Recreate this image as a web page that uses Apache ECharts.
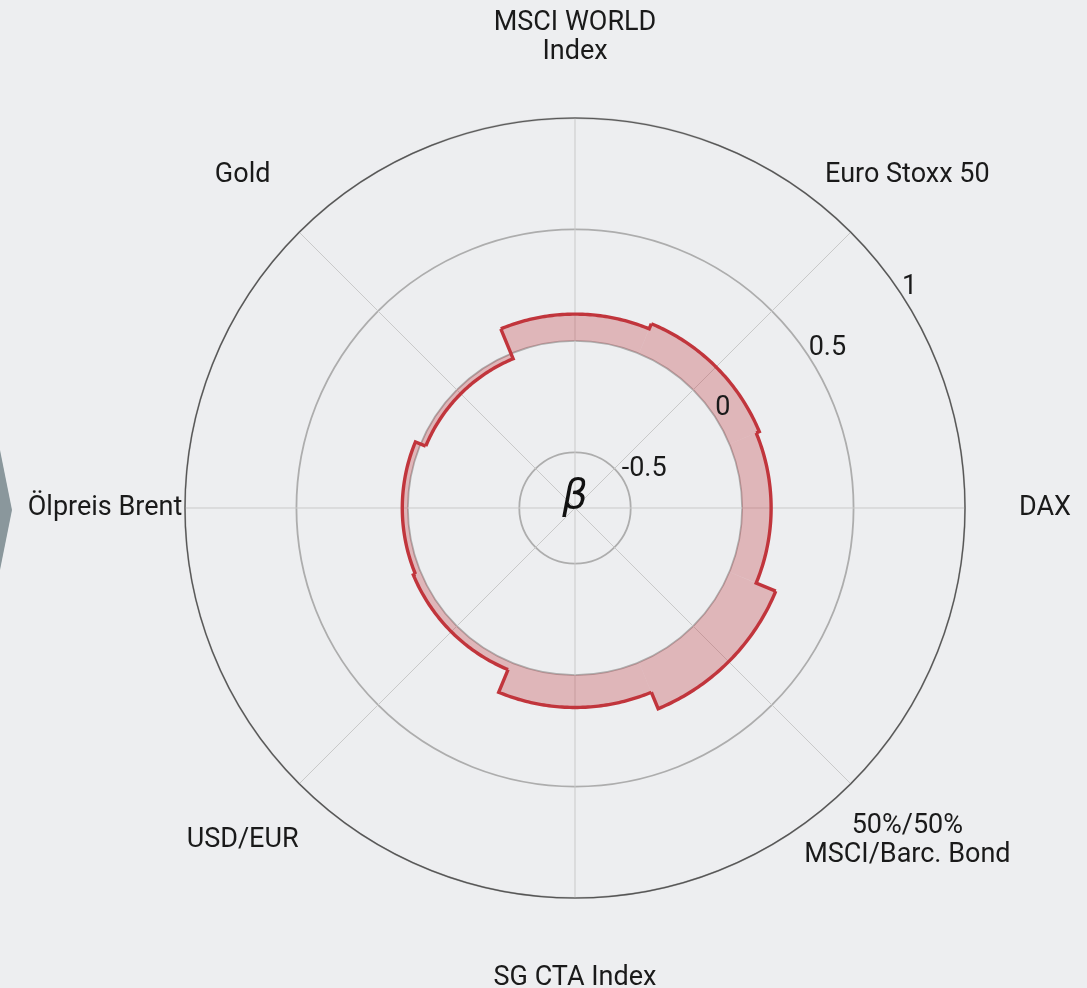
<!DOCTYPE html>
<html><head><meta charset="utf-8">
<script src="https://cdn.jsdelivr.net/npm/echarts@6/dist/echarts.min.js"></script>
<style>html,body{margin:0;padding:0;background:#edeef0;} #chart{width:1087px;height:988px;}</style>
</head><body><div id="chart"></div>
<script>
const categories = ['MSCI WORLD\nIndex', 'Euro Stoxx 50', 'DAX', '50%/50%\nMSCI/Barc. Bond', 'SG CTA Index', 'USD/EUR', 'Ölpreis Brent', 'Gold'];
const betaValues = [0.12, 0.145, 0.13, 0.225, 0.145, 0.035, 0.025, -0.025];
const radialTicks = [-0.5, 0, 0.5, 1];
const radialTickLabels = ['-0.5', '0', '0.5', '1'];
const rMin = -0.75, rMax = 1;

const step = 360 / categories.length;
const FONT = 'Roboto, "Liberation Sans", sans-serif';
const RED = '#c1353c';
const TEXT = '#1a1a1a';

const chart = echarts.init(document.getElementById('chart'), null, {renderer: 'canvas'});

function geom(params, api, v, a) {
  const cx = params.coordSys.cx, cy = params.coordSys.cy;
  const p = api.coord([v, a]);
  return {cx, cy, r: Math.hypot(p[0] - cx, p[1] - cy), th: Math.atan2(p[1] - cy, p[0] - cx)};
}
function band(params, api) {
  const n = params.dataInsideLength;
  const i = params.dataIndexInside;
  const v = api.value(0), a = api.value(1);
  const j = (i + 1) % n;
  const g = geom(params, api, v, a);
  const gn = geom(params, api, api.value(0, j), api.value(1, j));
  const g0 = geom(params, api, 0, a);
  let d = gn.th - g.th;
  while (d > Math.PI) d -= 2 * Math.PI;
  while (d < -Math.PI) d += 2 * Math.PI;
  return {g, gn, g0, thA: g.th - d / 2, thB: g.th + d / 2, d};
}

const option = {
  backgroundColor: '#edeef0',
  animation: false,
  polar: {center: [575, 508], radius: 390},
  angleAxis: {
    type: 'value', min: 0, max: 360, interval: step, startAngle: 90, clockwise: true,
    axisLine: {show: true, lineStyle: {color: '#555', width: 1.2}},
    axisTick: {show: false}, axisLabel: {show: false},
    splitLine: {show: true, lineStyle: {color: '#c9c9c9', width: 1}}
  },
  radiusAxis: {
    type: 'value', min: rMin, max: rMax, interval: 0.25,
    axisLine: {show: false}, axisTick: {show: false}, axisLabel: {show: false},
    splitLine: {show: true, lineStyle: {color: ['rgba(0,0,0,0)', '#adadad'], width: 1.8}}
  },
  graphic: [
    {type: 'polygon', shape: {points: [[0, 450], [12, 510], [0, 570]]}, style: {fill: '#8a979c'}},
    {type: 'text', x: 575, y: 498, style: {text: 'β', font: 'italic 40px "DejaVu Sans", sans-serif', fill: '#111', align: 'center', verticalAlign: 'middle'}, z: 100}
  ],
  series: [
    {
      type: 'custom', coordinateSystem: 'polar', z: 2,
      data: betaValues.map((v, i) => [v, i * step]),
      renderItem: function (params, api) {
        const b = band(params, api);
        const r1 = Math.min(b.g0.r, b.g.r), r2 = Math.max(b.g0.r, b.g.r);
        return {
          type: 'sector',
          shape: {cx: b.g.cx, cy: b.g.cy, r0: r1, r: r2,
            startAngle: b.d > 0 ? b.thA : b.thB, endAngle: b.d > 0 ? b.thB : b.thA, clockwise: true},
          style: {fill: 'rgba(193,53,60,0.3)', stroke: null}
        };
      }
    },
    {
      type: 'custom', coordinateSystem: 'polar', z: 3,
      data: betaValues.map((v, i) => [v, i * step]),
      renderItem: function (params, api) {
        const b = band(params, api);
        const pts = [];
        const N = 60;
        for (let k = 0; k <= N; k++) {
          const t = b.thA + (b.thB - b.thA) * k / N;
          pts.push([b.g.cx + b.g.r * Math.cos(t), b.g.cy + b.g.r * Math.sin(t)]);
        }
        pts.push([b.g.cx + b.gn.r * Math.cos(b.thB), b.g.cy + b.gn.r * Math.sin(b.thB)]);
        return {
          type: 'polyline', shape: {points: pts},
          style: {stroke: RED, lineWidth: 3.4, fill: null, lineJoin: 'miter'}
        };
      }
    },
    {
      type: 'custom', coordinateSystem: 'polar', z: 4,
      data: categories.map((c, i) => [rMax, i * step]),
      renderItem: function (params, api) {
        const g = geom(params, api, api.value(0), api.value(1));
        const R = g.r + 80;
        return {
          type: 'text',
          x: g.cx + R * Math.cos(g.th), y: g.cy + R * Math.sin(g.th),
          style: {text: categories[params.dataIndex], fontSize: 27, fontFamily: FONT, fill: TEXT,
            align: 'center', verticalAlign: 'middle', lineHeight: 29}
        };
      }
    },
    {
      type: 'custom', coordinateSystem: 'polar', z: 4,
      data: radialTicks.map(v => [v, 57]),
      renderItem: function (params, api) {
        const p = api.coord([api.value(0), api.value(1)]);
        return {
          type: 'text', x: p[0], y: p[1] + 5,
          style: {text: radialTickLabels[params.dataIndex], fontSize: 27, fontFamily: FONT, fill: TEXT,
            align: 'left', verticalAlign: 'bottom'}
        };
      }
    }
  ]
};
chart.setOption(option);
</script>
</body></html>
